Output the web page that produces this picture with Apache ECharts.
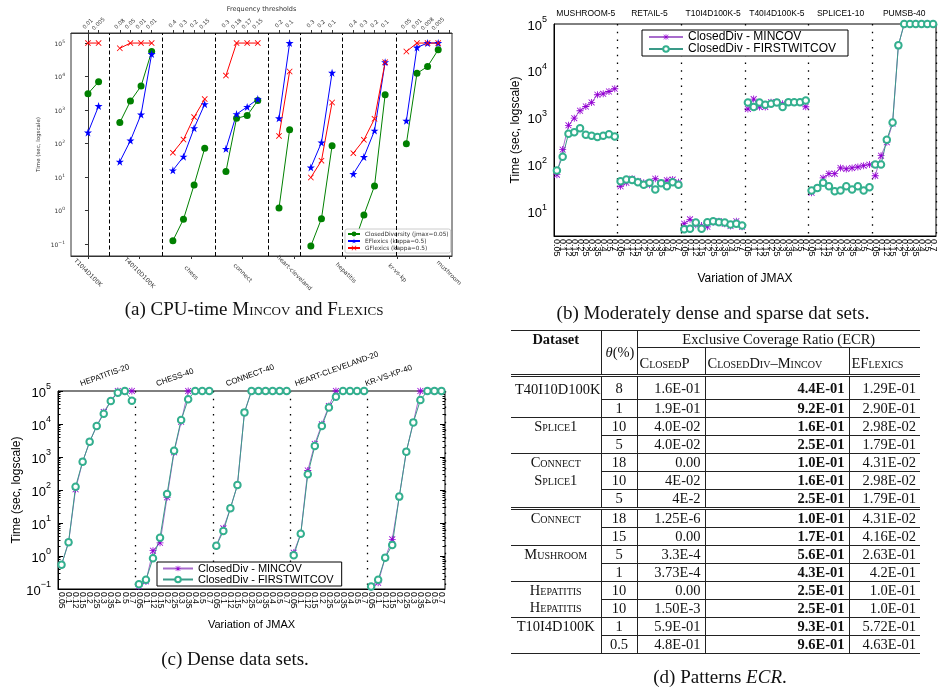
<!DOCTYPE html>
<html lang="en">
<head>
<meta charset="UTF-8">
<title>ClosedDiv experiments</title>
<style>
  body { margin: 0; background: #fff; overflow: hidden; }
  #chart { position: absolute; left: 0; top: 0; width: 939px; height: 694px; }
  .cap {
    position: absolute; font-family: "Liberation Serif", serif; font-size: 19px;
    line-height: 20px; color: #111; white-space: nowrap; transform: translateX(-50%);
  }
  .sc { font-variant: small-caps; }
  /* table (d) */
  #ecr {
    position: absolute; left: 511px; top: 330px; width: 409px;
    border-collapse: collapse; table-layout: fixed;
    font-family: "Liberation Serif", serif; font-size: 14.5px; color: #111;
  }
  #ecr td, #ecr th { padding: 0 4px; height: 17px; line-height: 15px; white-space: nowrap; font-weight: normal; }
  #ecr tbody tr:first-child td { height: 19.5px; padding-top: 2px; border-top: 3px double #222; }
  #ecr .vl { border-left: 1px solid #222; }
  #ecr .bt { border-top: 1px solid #222; }
  #ecr .bd { border-top: 3px double #222; }
  #ecr .c0, #ecr .c1 { text-align: center; }
  #ecr .c2, #ecr .c3, #ecr .c4 { text-align: right; }
  #ecr .c3 { font-weight: bold; }
  #ecr tr:last-child td { border-bottom: 1px solid #222; }
  #ecr th.ds { vertical-align: top; font-weight: bold; border-top: 1.5px solid #222; padding-top: 1px; }
  #ecr th.th { border-top: 1.5px solid #222; }
  #ecr th.ecrh { border-top: 1.5px solid #222; border-bottom: 1px solid #222; height: 16px; text-align: center; }
  #ecr th.sub { height: 22px; text-align: left; padding: 4px 0 0 2px; }
</style>
<script src="https://cdn.jsdelivr.net/npm/echarts@6/dist/echarts.min.js"></script>
</head>
<body>
<div id="chart"></div>

<div class="cap" style="left:254px; top:299px;">(a) CPU-time <span class="sc">Mincov</span> and <span class="sc">Flexics</span></div>
<div class="cap" style="left:713px; top:303px;">(b) Moderately dense and sparse dat sets.</div>
<div class="cap" style="left:235px; top:649px;">(c) Dense data sets.</div>
<div class="cap" style="left:720px; top:667px;">(d) Patterns <i>ECR</i>.</div>

<table id="ecr">
  <colgroup><col style="width:90px"><col style="width:36px"><col style="width:68px"><col style="width:144px"><col style="width:71px"></colgroup>
  <thead>
    <tr><th rowspan="2" class="ds">Dataset</th><th rowspan="2" class="th vl"><i>θ</i>(%)</th><th colspan="3" class="ecrh vl">Exclusive Coverage Ratio (ECR)</th></tr>
    <tr><th class="sub vl sc">ClosedP</th><th class="sub vl sc">ClosedDiv–Mincov</th><th class="sub vl sc">EFlexics</th></tr>
  </thead>
  <tbody id="ecrBody"></tbody>
</table>

<script>
// ---------- (a) CPU-time, one slot left empty between datasets ----------
var aDatasets = ['T10I4D100K', 'T40I10D100K', 'chess', 'connect', 'heart-cleveland', 'hepatitis', 'kr-vs-kp', 'mushroom'];
var aThresholds = [
    ['0.01', '0.005'], ['0.08', '0.05', '0.01', '0.01'], ['0.4', '0.3', '0.2', '0.15'], ['0.3', '0.18', '0.17', '0.15'],
    ['0.2', '0.1'], ['0.3', '0.2', '0.1'], ['0.4', '0.3', '0.2', '0.1'], ['0.05', '0.01', '0.008', '0.005']
];
var aClosedDiv = [[3100, 7000], [426, 1860, 5200, 56000], [0.128, 0.56, 5.9, 73], [14.7, 570, 690, 1940],
    [1.2, 258], [0.089, 0.58, 86], [0.09, 0.75, 5.5, 2870], [100, 12500, 20000, 63000]];
var aEFlexics = [[214, 1320], [29, 124, 740, 47000], [16, 41, 290, 1510], [70, 760, 1250, 2130],
    [570, 100000], [19.5, 108, 13000], [12.5, 40, 245, 27000], [480, 74000, 100000, 100000]];
var aGFlexics = [[100000, 100000], [70000, 100000, 100000, 100000], [54, 132, 620, 2130], [10700, 100000, 100000, 100000],
    [170, 14200], [9.8, 31, 1690], [52, 130, 550, 27000], [56000, 100000, 100000, 100000]];

// ---------- (b) moderately dense / sparse ----------
var jmaxLabels = ['0.05', '0.1', '0.12', '0.15', '0.2', '0.25', '0.3', '0.35', '0.4', '0.5', '0.7'];
var bGroups = ['MUSHROOM-5', 'RETAIL-5', 'T10I4D100K-5', 'T40I4D100K-5', 'SPLICE1-10', 'PUMSB-40'];
var bMincov = [
    [61, 209, 690, 980, 1410, 1740, 2120, 3090, 3240, 3630, 4150],
    [34.5, 41, 50, 44, 41, 37, 50, 41, 46.6, 48, 42],
    [5.5, 6.8, 5.2, 5.0, 4.7, 5.9, 6.2, 5.5, 4.9, 6.2, 4.7],
    [1540, 2500, 1700, 1700, 2150, 2150, 1990, 2150, 2150, 2150, 1720],
    [25, 31.6, 52, 64, 64, 85, 81, 85, 89, 95, 100],
    [58, 155, 300, 750, 35000, 100000, 100000, 100000, 100000, 100000, 100000]
];
var bFirst = [
    [75, 147, 457, 490, 600, 435, 415, 390, 415, 445, 400],
    [44, 48, 47, 42, 37, 41, 29.5, 40, 34.5, 42, 37],
    [4.2, 4.3, 5.8, 4.3, 5.9, 6.2, 5.9, 5.8, 5.3, 5.5, 5.0],
    [2120, 1700, 2120, 1900, 1990, 2120, 1700, 2150, 2150, 2150, 2330],
    [28, 31.6, 41, 34.5, 27, 28, 34.5, 29.5, 34.5, 28, 33],
    [100, 100, 340, 790, 35000, 100000, 100000, 100000, 100000, 100000, 100000]
];

// ---------- (c) dense ----------
var cGroups = ['HEPATITIS-20', 'CHESS-40', 'CONNECT-40', 'HEART-CLEVELAND-20', 'KR-VS-KP-40'];
var cMincov = [
    [0.54, 2.6, 105, 720, 2900, 8700, 23000, 50000, 100000, 100000, 100000],
    [0.12, 0.17, 1.45, 2.5, 60, 1390, 11700, 100000, 100000, 100000, 100000],
    [2.05, 6.9, 28, 141, 22500, 100000, 100000, 100000, 100000, 100000, 100000],
    [1.26, 4.7, 390, 2500, 9800, 35000, 100000, 100000, 100000, 100000, 100000],
    [0.115, 0.155, 0.89, 3.2, 63, 1450, 11200, 100000, 100000, 100000, 100000]
];
var cFirst = [
    [0.54, 2.6, 126, 720, 2900, 8700, 20500, 50000, 89000, 100000, 51000],
    [0.14, 0.19, 0.85, 3.6, 76, 1550, 13200, 56000, 100000, 100000, 100000],
    [2.05, 5.7, 28, 141, 22500, 100000, 100000, 100000, 100000, 100000, 100000],
    [1.05, 4.7, 300, 2150, 8700, 31500, 67000, 100000, 100000, 100000, 100000],
    [0.12, 0.19, 0.89, 2.15, 63, 1450, 11200, 53000, 100000, 100000, 100000]
];

// ---------- (d) ECR table ----------
var ecrRows = [
    ['T40I10D100K', '8', '1.6E-01', '4.4E-01', '1.29E-01'],
    ['', '1', '1.9E-01', '9.2E-01', '2.90E-01'],
    ['Splice1', '10', '4.0E-02', '1.6E-01', '2.98E-02'],
    ['', '5', '4.0E-02', '2.5E-01', '1.79E-01'],
    ['Connect', '18', '0.00', '1.0E-01', '4.31E-02'],
    ['Splice1', '10', '4E-02', '1.6E-01', '2.98E-02'],
    ['', '5', '4E-2', '2.5E-01', '1.79E-01'],
    ['Connect', '18', '1.25E-6', '1.0E-01', '4.31E-02'],
    ['', '15', '0.00', '1.7E-01', '4.16E-02'],
    ['Mushroom', '5', '3.3E-4', '5.6E-01', '2.63E-01'],
    ['', '1', '3.73E-4', '4.3E-01', '4.2E-01'],
    ['Hepatitis', '10', '0.00', '2.5E-01', '1.0E-01'],
    ['Hepatitis', '10', '1.50E-3', '2.5E-01', '1.0E-01'],
    ['T10I4D100K', '1', '5.9E-01', '9.3E-01', '5.72E-01'],
    ['', '0.5', '4.8E-01', '9.6E-01', '4.63E-01']
];
// rule above each body row after the first: f = full width, p = from column 2, d = double
var ecrRules = ['p', 'f', 'p', 'f', 'p', 'p', 'd', 'p', 'f', 'p', 'f', 'p', 'f', 'p'];

var tbody = document.getElementById('ecrBody');
ecrRows.forEach(function (r, i) {
    var tr = document.createElement('tr');
    var rule = i === 0 ? '' : ecrRules[i - 1];
    r.forEach(function (txt, c) {
        var td = document.createElement('td');
        td.textContent = txt;
        var cls = ['c' + c];
        if (c > 0) cls.push('vl');
        if (c === 0 && !/^T\d/.test(txt)) cls.push('sc');
        if (rule === 'f' || (rule === 'p' && c > 0)) cls.push('bt');
        if (rule === 'd') cls.push('bd');
        td.className = cls.join(' ');
        tr.appendChild(td);
    });
    tbody.appendChild(tr);
});

// ---------- helpers ----------
function powLabel(v) {
    var e = Math.log10(v), r = Math.round(e);
    if (Math.abs(e - r) > 1e-6) return '';
    return '{b|10}{s|' + (r < 0 ? '\u2212' + (-r) : r) + '}';
}
// gnuplot-like tick positions on a log axis (majors 10^n, minors 2..9 x 10^n)
function logTicks(min, max, minor) {
    var out = [];
    for (var e = Math.floor(Math.log10(min)); e <= Math.ceil(Math.log10(max)); e++) {
        for (var k = minor ? 2 : 1; k <= (minor ? 9 : 1); k++) {
            var v = k * Math.pow(10, e);
            if (v >= min * 0.999 && v <= max * 1.001) out.push(v);
        }
    }
    return out;
}
var STAR = 'path://M5,0L6.2,3.6L10,3.6L6.9,5.9L8.1,9.5L5,7.3L1.9,9.5L3.1,5.9L0,3.6L3.8,3.6Z';
var CROSS = 'path://M0,1L1,0L5,4L9,0L10,1L6,5L10,9L9,10L5,6L1,10L0,9L4,5Z';
var ASTER = 'path://M4.4,0H5.6V10H4.4Z M0,4.4H10V5.6H0Z M1.2,0.4L9.6,8.8L8.8,9.6L0.4,1.2Z M8.8,0.4L9.6,1.2L1.2,9.6L0.4,8.8Z';

// slot layout of (a)
var aStart = [], slot = 0;
aThresholds.forEach(function (g) { aStart.push(slot); slot += g.length + 1; });
var aEnd = slot - 1;
var aSeps = aStart.slice(1).map(function (v) { return v - 1; });
var aTopTicks = [], aTopText = [];
aThresholds.forEach(function (g, i) {
    g.forEach(function (t, j) { aTopTicks.push(aStart[i] + j); aTopText.push(t); });
});
aTopTicks.push(aEnd); aTopText.push('');
var aBottomTicks = aDatasets.map(function (d, i) { return i * aEnd / (aDatasets.length - 1); });

function aData(groups) {
    var out = [];
    groups.forEach(function (g, i) {
        g.forEach(function (v, j) { out.push([aStart[i] + j, v]); });
        out.push([aStart[i] + g.length, '-']);
    });
    return out;
}
function findLabel(list, texts, v) {
    for (var i = 0; i < list.length; i++) if (Math.abs(list[i] - v) < 1e-6) return texts[i];
    return '';
}

var richA = {
    b: { fontSize: 6, color: '#333', padding: [2, 0, 0, 0], verticalAlign: 'bottom', fontFamily: 'DejaVu Sans' },
    s: { fontSize: 4.5, color: '#333', verticalAlign: 'top', fontFamily: 'DejaVu Sans' }
};
var richG = {
    b: { fontSize: 13, color: '#000', padding: [4, 0, 0, 0], verticalAlign: 'bottom' },
    s: { fontSize: 9, color: '#000', verticalAlign: 'top' }
};

var aKinds = [
    { name: 'ClosedDiversity (jmax=0.05)', data: aClosedDiv, color: '#008000', symbol: 'circle', size: 7 },
    { name: 'EFlexics (kappa=0.5)', data: aEFlexics, color: '#0000ff', symbol: STAR, size: 8 },
    { name: 'GFlexics (kappa=0.5)', data: aGFlexics, color: '#ff0000', symbol: CROSS, size: 6 }
];
var MIN_NAME = 'ClosedDiv - MINCOV', FIRST_NAME = 'ClosedDiv - FIRSTWITCOV';
var gKinds = [
    { name: MIN_NAME, symbol: ASTER, size: 7, marker: '#9400d3', line: '#a86ccc' },
    { name: FIRST_NAME, symbol: 'emptyCircle', size: 6.5, marker: '#33b08e', line: '#3a9a88' }
];

function groupSeries(groups, kind, xi, yi) {
    var per = jmaxLabels.length, n = groups.length * per;
    return groups.map(function (g, gi) {
        var data = [];
        for (var k = 0; k < n; k++) {
            var j = k - gi * per;
            data.push(j >= 0 && j < per ? g[j] : '-');
        }
        return {
            name: kind.name, type: 'line', xAxisIndex: xi, yAxisIndex: yi, data: data,
            symbol: kind.symbol, symbolSize: kind.size, showAllSymbol: true,
            itemStyle: { color: kind.marker, borderWidth: 1 }, lineStyle: { color: kind.line, width: 1 },
            emphasis: { disabled: true }
        };
    });
}

var series = [];
aKinds.forEach(function (k, i) {
    var s = {
        name: k.name, type: 'line', xAxisIndex: 0, yAxisIndex: 0, data: aData(k.data),
        symbol: k.symbol, symbolSize: k.size, itemStyle: { color: k.color },
        lineStyle: { color: k.color, width: 1 }, emphasis: { disabled: true }
    };
    if (i === 0) {
        s.markLine = {
            silent: true, symbol: ['none', 'none'], label: { show: false },
            lineStyle: { color: '#000', type: [4, 2.5], width: 1 },
            data: aSeps.map(function (v) { return { xAxis: v }; })
        };
    }
    series.push(s);
});
series = series.concat(groupSeries(bMincov, gKinds[0], 2, 1), groupSeries(bFirst, gKinds[1], 2, 1),
    groupSeries(cMincov, gKinds[0], 4, 2), groupSeries(cFirst, gKinds[1], 4, 2));

var sepLine = {
    show: true,
    interval: function (i) { return i > 0 && i % jmaxLabels.length === 0; },
    lineStyle: { color: '#000', type: [1.5, 6.2], width: 1.3 }
};
var cTopPos = [3.4, 14.2, 24.1, 33.9, 43.9];

// main gnuplot y axis plus mirrored / minor tick axes
function gnuYAxes(gi, min, max) {
    var base = {
        type: 'log', gridIndex: gi, min: min, max: max,
        axisLine: { show: false }, axisLabel: { show: false }, splitLine: { show: false }
    };
    var majors = logTicks(min, max, false), minors = logTicks(min, max, true);
    return [
        {
            type: 'log', gridIndex: gi, min: min, max: max, position: 'left',
            name: 'Time (sec, logscale)', nameLocation: 'middle', nameGap: 32,
            nameTextStyle: { fontSize: 12, color: '#000' },
            axisLine: { show: true, lineStyle: { color: '#000' } }, splitLine: { show: false },
            axisTick: { inside: true, length: 5, customValues: majors, lineStyle: { color: '#000' } },
            axisLabel: { formatter: powLabel, rich: richG, margin: 7, customValues: majors }
        },
        Object.assign({}, base, { position: 'left', axisTick: { inside: true, length: 2.5, customValues: minors, lineStyle: { color: '#000' } } }),
        Object.assign({}, base, { position: 'right', axisTick: { inside: true, length: 5, customValues: majors, lineStyle: { color: '#000' } } }),
        Object.assign({}, base, { position: 'right', axisTick: { inside: true, length: 2.5, customValues: minors, lineStyle: { color: '#000' } } })
    ];
}
var bY = gnuYAxes(1, 3, 100000), cY = gnuYAxes(2, 0.1, 100000);

var option = {
    animation: false,
    textStyle: { fontFamily: 'Liberation Sans' },
    grid: [
        { left: 71, top: 33, width: 381, height: 223, show: true, borderColor: '#333', borderWidth: 1, outerBoundsMode: 'none' },
        { left: 554, top: 24, width: 382, height: 212, show: true, borderColor: '#000', borderWidth: 1, outerBoundsMode: 'none' },
        { left: 58, top: 391, width: 387, height: 198, show: true, borderColor: '#000', borderWidth: 1, outerBoundsMode: 'none' }
    ],
    xAxis: [
        { // 0: (a) datasets
            type: 'value', gridIndex: 0, position: 'bottom', min: -1.6, max: 34.3,
            axisLine: { lineStyle: { color: '#333' } }, splitLine: { show: false },
            axisTick: { customValues: aBottomTicks, length: 3, lineStyle: { color: '#333' } },
            axisLabel: {
                customValues: aBottomTicks, rotate: -45, align: 'center', verticalAlign: 'middle', margin: 17,
                fontSize: 6, color: '#333', fontFamily: 'DejaVu Sans',
                formatter: function (v) { return findLabel(aBottomTicks, aDatasets, v); }
            }
        },
        { // 1: (a) thresholds
            type: 'value', gridIndex: 0, position: 'top', min: -1.6, max: 34.3,
            name: 'Frequency thresholds', nameLocation: 'middle', nameGap: 19,
            nameTextStyle: { fontSize: 6.5, color: '#333', fontFamily: 'DejaVu Sans' },
            axisLine: { lineStyle: { color: '#333' } }, splitLine: { show: false },
            axisTick: { customValues: aTopTicks, length: 3, lineStyle: { color: '#333' } },
            axisLabel: {
                customValues: aTopTicks, rotate: -45, align: 'center', verticalAlign: 'middle', margin: 9,
                fontSize: 5.5, color: '#333', fontFamily: 'DejaVu Sans',
                formatter: function (v) { return findLabel(aTopTicks, aTopText, v); }
            }
        },
        { // 2: (b) jmax
            type: 'category', gridIndex: 1, data: bGroups.flatMap(function () { return jmaxLabels; }),
            boundaryGap: true, name: 'Variation of JMAX', nameLocation: 'middle', nameGap: 37,
            nameTextStyle: { fontSize: 12, color: '#000' },
            axisLine: { lineStyle: { color: '#000' } },
            axisTick: { inside: true, interval: 0, length: 4, lineStyle: { color: '#000' } },
            axisLabel: { interval: 0, rotate: -90, fontSize: 9, color: '#000', margin: 3 },
            splitLine: sepLine
        },
        { // 3: (b) dataset names
            type: 'category', gridIndex: 1, position: 'top', data: bGroups, boundaryGap: true,
            axisLine: { show: false }, axisTick: { show: false },
            axisLabel: { fontSize: 8.5, color: '#000', margin: 6, interval: 0 }
        },
        { // 4: (c) jmax
            type: 'category', gridIndex: 2, data: cGroups.flatMap(function () { return jmaxLabels; }),
            boundaryGap: true, name: 'Variation of JMAX', nameLocation: 'middle', nameGap: 30,
            nameTextStyle: { fontSize: 11, color: '#000' },
            axisLine: { lineStyle: { color: '#000' } },
            axisTick: { inside: true, interval: 0, length: 4, lineStyle: { color: '#000' } },
            axisLabel: { interval: 0, rotate: -90, fontSize: 8.5, color: '#000', margin: 3 },
            splitLine: sepLine
        },
        { // 5: (c) dataset names
            type: 'value', gridIndex: 2, position: 'top', min: 0, max: 55,
            axisLine: { show: false }, axisTick: { show: false }, splitLine: { show: false },
            axisLabel: {
                customValues: cTopPos, rotate: -20, align: 'left', verticalAlign: 'bottom', margin: 3,
                fontSize: 8, color: '#000',
                formatter: function (v) { return findLabel(cTopPos, cGroups, v); }
            }
        }
    ],
    yAxis: [
        {
            type: 'log', gridIndex: 0, min: Math.pow(10, -1.35), max: Math.pow(10, 5.3),
            name: 'Time (sec, logscale)', nameLocation: 'middle', nameGap: 29,
            nameTextStyle: { fontSize: 5.5, color: '#333', fontFamily: 'DejaVu Sans' },
            axisLine: { show: true, lineStyle: { color: '#333' } }, splitLine: { show: false },
            axisTick: { length: 3, lineStyle: { color: '#333' } },
            axisLabel: { formatter: powLabel, rich: richA, margin: 6 }
        },
        bY[0], cY[0], bY[1], bY[2], bY[3], cY[1], cY[2], cY[3]
    ],
    legend: [
        {
            data: aKinds.map(function (k) { return k.name; }), left: 345, top: 229, orient: 'vertical',
            itemGap: 1, itemWidth: 12, itemHeight: 6, padding: [2, 2, 2, 2],
            backgroundColor: '#fff', borderColor: '#ccc', borderWidth: 1, borderRadius: 2,
            textStyle: { fontSize: 5.8, color: '#333', fontFamily: 'DejaVu Sans' }, selectedMode: false
        },
        {
            data: [MIN_NAME, FIRST_NAME], left: 642, top: 30, orient: 'vertical',
            itemGap: 0, itemWidth: 34, itemHeight: 7, padding: [1, 12, 1, 6],
            borderColor: '#000', borderWidth: 1, backgroundColor: '#fff',
            textStyle: { fontSize: 12, color: '#000', lineHeight: 11 }, selectedMode: false
        },
        {
            data: [MIN_NAME, FIRST_NAME], left: 157, top: 562, orient: 'vertical',
            itemGap: 0, itemWidth: 30, itemHeight: 7, padding: [1, 8, 1, 5],
            borderColor: '#000', borderWidth: 1, backgroundColor: '#fff',
            textStyle: { fontSize: 11, color: '#000', lineHeight: 11 }, selectedMode: false
        }
    ],
    series: series
};

var myChart = echarts.init(document.getElementById('chart'));
myChart.setOption(option);
</script>
</body>
</html>
